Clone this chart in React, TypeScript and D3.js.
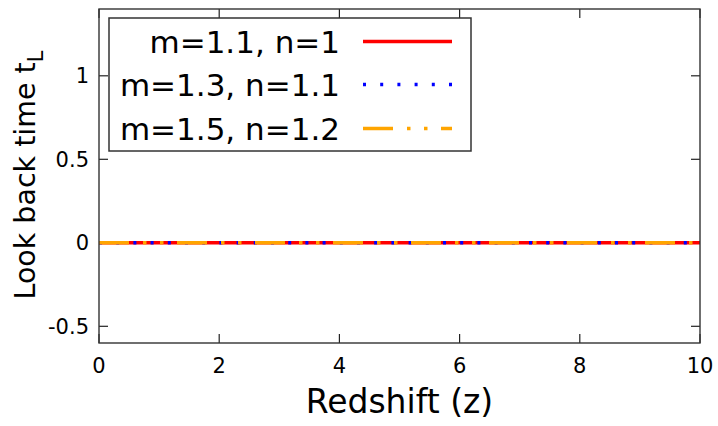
import React, { useRef, useEffect } from 'react';
import * as d3 from 'd3';

// redshift samples and look back time of each model (all flat at zero)
const redshift = [0, 1, 2, 3, 4, 5, 6, 7, 8, 9, 10];
const tA = [0, 0, 0, 0, 0, 0, 0, 0, 0, 0, 0];
const tB = [0, 0, 0, 0, 0, 0, 0, 0, 0, 0, 0];
const tC = [0, 0, 0, 0, 0, 0, 0, 0, 0, 0, 0];

const seriesNames = ['m=1.1, n=1', 'm=1.3, n=1.1', 'm=1.5, n=1.2'];
const seriesColors = ['#ff0000', '#0000ff', '#ffa500'];
const seriesDash = ['none', '3,14.2', '30,14,3.5,13.5,3.5,13.5'];

const xTicks = [0, 2, 4, 6, 8, 10];
const yTicks = [-0.5, 0, 0.5, 1];
const yTickLabels = ['-0.5', '0', '0.5', '1'];

const App = () => {
  const svgRef = useRef<SVGSVGElement>(null);

  useEffect(() => {
    const width = 718;
    const height = 426;
    const left = 99, right = 700, top = 9, bottom = 343;
    const font = 'DejaVu Sans';

    const svg = d3.select(svgRef.current)
      .attr('width', width)
      .attr('height', height);
    svg.selectAll('*').remove();

    const x = d3.scaleLinear().domain([0, 10]).range([left, right]);
    const y = d3.scaleLinear().domain([-0.6, 1.4]).range([bottom, top]);

    svg.append('rect').attr('width', width).attr('height', height).attr('fill', '#fff');

    // tick marks, inward, mirrored on top and right
    const tickLen = 9;
    const ticks = svg.append('g').attr('stroke', '#222').attr('stroke-width', 1.2);
    xTicks.forEach(t => {
      ticks.append('line').attr('x1', x(t)).attr('x2', x(t)).attr('y1', bottom).attr('y2', bottom - tickLen);
      ticks.append('line').attr('x1', x(t)).attr('x2', x(t)).attr('y1', top).attr('y2', top + tickLen);
    });
    yTicks.forEach(t => {
      ticks.append('line').attr('x1', left).attr('x2', left + tickLen).attr('y1', y(t)).attr('y2', y(t));
      ticks.append('line').attr('x1', right).attr('x2', right - tickLen).attr('y1', y(t)).attr('y2', y(t));
    });

    // tick labels
    svg.append('g').selectAll('text').data(xTicks).enter().append('text')
      .attr('x', d => x(d)).attr('y', 373)
      .attr('text-anchor', 'middle')
      .style('font-family', font).style('font-size', '21px')
      .text(d => String(d));

    svg.append('g').selectAll('text').data(yTicks).enter().append('text')
      .attr('x', 89).attr('y', d => y(d) + 7.5)
      .attr('text-anchor', 'end')
      .style('font-family', font).style('font-size', '21px')
      .text((d, i) => yTickLabels[i]);

    // curves: red first, blue dots, orange dash-dot-dot on top
    const values = [tA, tB, tC];
    const line = d3.line<number>()
      .x((d, i) => x(redshift[i]))
      .y(d => y(d));

    values.forEach((v, i) => {
      svg.append('path')
        .attr('d', line(v))
        .attr('fill', 'none')
        .attr('stroke', seriesColors[i])
        .attr('stroke-width', 3.4)
        .attr('stroke-dasharray', seriesDash[i]);
    });

    // frame
    svg.append('rect')
      .attr('x', left).attr('y', top)
      .attr('width', right - left).attr('height', bottom - top)
      .attr('fill', 'none')
      .attr('stroke', '#333')
      .attr('stroke-width', 1.4);

    // legend
    const lg = svg.append('g');
    lg.append('rect')
      .attr('x', 109).attr('y', 18)
      .attr('width', 362).attr('height', 133)
      .attr('fill', '#fff')
      .attr('stroke', '#333')
      .attr('stroke-width', 1.5);

    const rowY = [41.5, 84.5, 128.5];
    seriesNames.forEach((name, i) => {
      lg.append('text')
        .attr('x', 340).attr('y', rowY[i] + 11)
        .attr('text-anchor', 'end')
        .style('font-family', font).style('font-size', '31px')
        .text(name);
      lg.append('line')
        .attr('x1', 363).attr('x2', 452)
        .attr('y1', rowY[i]).attr('y2', rowY[i])
        .attr('stroke', seriesColors[i])
        .attr('stroke-width', 3.4)
        .attr('stroke-dasharray', seriesDash[i]);
    });

    // axis titles
    svg.append('text')
      .attr('x', (left + right) / 2).attr('y', 413)
      .attr('text-anchor', 'middle')
      .style('font-family', font).style('font-size', '33px')
      .text('Redshift (z)');

    const yl = svg.append('text')
      .attr('transform', 'translate(35,175) rotate(-90)')
      .attr('text-anchor', 'middle')
      .style('font-family', font).style('font-size', '28.5px');
    yl.append('tspan').text('Look back time t');
    yl.append('tspan').attr('dy', 8).style('font-size', '21px').text('L');
  }, []);

  return (
    <svg ref={svgRef} style={{ position: 'absolute', left: 0, top: 0 }}></svg>
  );
};

export default App;
